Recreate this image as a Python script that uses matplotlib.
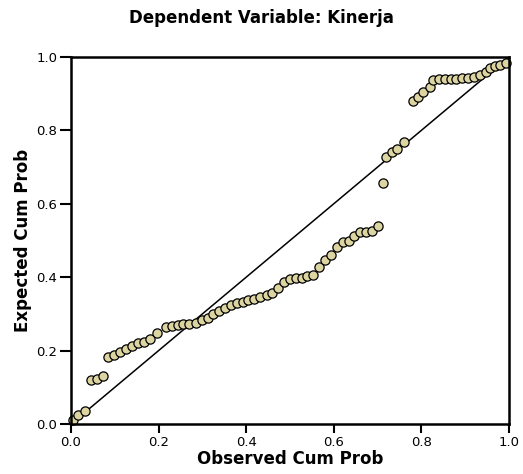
import matplotlib
matplotlib.use("Agg")
import matplotlib.pyplot as plt

observed = [0.005, 0.017, 0.033, 0.046, 0.059, 0.074, 0.085, 0.099, 0.112, 0.125,
            0.139, 0.152, 0.166, 0.180, 0.196, 0.216, 0.230, 0.244, 0.256, 0.270,
            0.285, 0.298, 0.312, 0.325, 0.338, 0.352, 0.365, 0.378, 0.392, 0.405,
            0.419, 0.432, 0.447, 0.460, 0.473, 0.487, 0.500, 0.513, 0.527, 0.540,
            0.553, 0.566, 0.580, 0.594, 0.608, 0.622, 0.635, 0.646, 0.660, 0.674,
            0.687, 0.700, 0.713, 0.720, 0.732, 0.745, 0.760, 0.781, 0.793, 0.804,
            0.820, 0.827, 0.841, 0.854, 0.867, 0.880, 0.894, 0.907, 0.921, 0.934,
            0.947, 0.957, 0.968, 0.979, 0.993]
expected = [0.012, 0.025, 0.036, 0.120, 0.123, 0.132, 0.183, 0.188, 0.195, 0.204,
            0.212, 0.220, 0.223, 0.231, 0.249, 0.265, 0.268, 0.270, 0.272, 0.272,
            0.276, 0.283, 0.290, 0.300, 0.309, 0.315, 0.324, 0.329, 0.333, 0.338,
            0.340, 0.345, 0.351, 0.356, 0.371, 0.388, 0.394, 0.397, 0.397, 0.403,
            0.406, 0.427, 0.447, 0.460, 0.483, 0.497, 0.500, 0.513, 0.524, 0.524,
            0.526, 0.540, 0.656, 0.727, 0.742, 0.748, 0.769, 0.881, 0.892, 0.905,
            0.919, 0.937, 0.939, 0.939, 0.939, 0.939, 0.942, 0.942, 0.946, 0.951,
            0.960, 0.969, 0.975, 0.978, 0.983]
ticks = [0.0, 0.2, 0.4, 0.6, 0.8, 1.0]
tick_labels = ["0.0", "0.2", "0.4", "0.6", "0.8", "1.0"]

plt.rcParams['font.family'] = ['DejaVu Sans']

fig = plt.figure(figsize=(5.23, 4.74), dpi=100)
ax = fig.add_axes([0.1358, 0.1055, 0.8372, 0.7742])

ax.plot([0, 1], [0, 1], color='black', lw=1.1, zorder=1)
ax.scatter(observed, expected, s=44, facecolor='#dcd5a2', edgecolor='black',
           linewidths=0.9, zorder=2, clip_on=False)

ax.set_xlim(0, 1)
ax.set_ylim(0, 1)
ax.set_xticks(ticks)
ax.set_xticklabels(tick_labels)
ax.set_yticks(ticks)
ax.set_yticklabels(tick_labels)
for s in ax.spines.values():
    s.set_linewidth(1.8)
ax.tick_params(axis='x', direction='out', length=6.5, width=1.5, labelsize=9.5, pad=2)
ax.tick_params(axis='y', direction='out', length=8, width=1.5, labelsize=9.5, pad=2)

ax.set_xlabel("Observed Cum Prob", fontsize=12, fontweight='bold', labelpad=1)
ax.set_ylabel("Expected Cum Prob", fontsize=12, fontweight='bold', labelpad=3)
fig.text(0.50, 0.962, "Dependent Variable: Kinerja", ha='center', va='center',
         fontsize=12, fontweight='bold')

fig.savefig("out.png", dpi=100)
